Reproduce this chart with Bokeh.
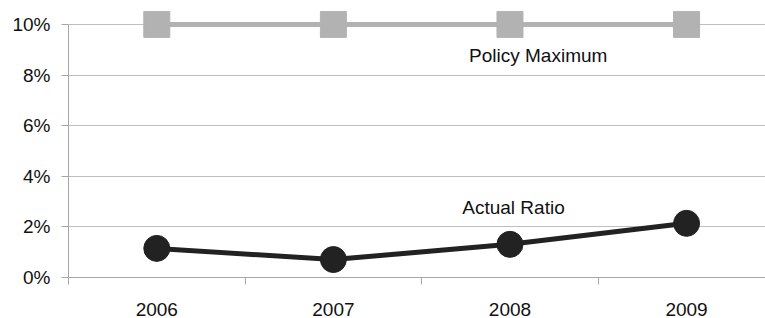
from bokeh.plotting import figure
from bokeh.models import FixedTicker, Range1d, ColumnDataSource
from bokeh.core.properties import value
from bokeh.embed import file_html
from bokeh.resources import INLINE

years = ["2006", "2007", "2008", "2009"]
actual_ratio = [1.15, 0.71, 1.31, 2.14]
policy_max = [10, 10, 10, 10]
y_ticks = [0, 2, 4, 6, 8, 10]
y_tick_labels = ["0%", "2%", "4%", "6%", "8%", "10%"]
series_labels = ["Policy Maximum", "Actual Ratio"]
label_x = [2.16, 2.02]
label_y = [8.79, 2.76]

FONT = "Liberation Sans"
xs = list(range(len(years)))

p = figure(width=765, height=318, output_backend="svg", toolbar_location=None,
           x_range=Range1d(-0.5, 3.447), y_range=Range1d(0, 10.55),
           min_border_left=68, min_border_right=0, min_border_top=10,
           min_border_bottom=41)
p.outline_line_color = None
p.background_fill_color = "white"
p.border_fill_color = "white"

# y axis
p.yaxis.ticker = FixedTicker(ticks=y_ticks)
p.yaxis.major_label_overrides = {t: l for t, l in zip(y_ticks, y_tick_labels)}
p.yaxis.bounds = (0, 10)
p.yaxis.axis_line_color = "#a6a6a6"
p.yaxis.major_tick_line_color = "#a6a6a6"
p.yaxis.major_tick_out = 7
p.yaxis.major_tick_in = 0
p.yaxis.minor_tick_line_color = None
p.yaxis.major_label_text_font = FONT
p.yaxis.major_label_text_font_size = "19px"
p.yaxis.major_label_text_color = "#111111"
p.yaxis.major_label_standoff = 11

# x axis
boundaries = [i - 0.5 for i in range(len(years) + 1)]
p.xaxis.ticker = FixedTicker(ticks=xs, minor_ticks=boundaries)
p.xaxis.major_label_overrides = {i: y for i, y in zip(xs, years)}
p.xaxis.axis_line_color = "#a6a6a6"
p.xaxis.major_tick_line_color = None
p.xaxis.major_tick_out = 0
p.xaxis.major_tick_in = 0
p.xaxis.minor_tick_line_color = "#a6a6a6"
p.xaxis.minor_tick_out = 7
p.xaxis.minor_tick_in = 0
p.xaxis.major_label_text_font = FONT
p.xaxis.major_label_text_font_size = "19px"
p.xaxis.major_label_text_color = "#111111"
p.xaxis.major_label_standoff = 18

p.xgrid.grid_line_color = None
p.ygrid.ticker = FixedTicker(ticks=y_ticks)
p.ygrid.grid_line_color = "#bfbfbf"
p.ygrid.grid_line_width = 1

src_p = ColumnDataSource(dict(x=xs, y=policy_max))
src_a = ColumnDataSource(dict(x=xs, y=actual_ratio))

p.line("x", "y", source=src_p, line_color="#b2b2b2", line_width=5)
p.scatter("x", "y", source=src_p, marker="square", size=26,
          fill_color="#b2b2b2", line_color="#b2b2b2")
p.line("x", "y", source=src_a, line_color="#222222", line_width=5)
p.scatter("x", "y", source=src_a, marker="circle", size=26,
          fill_color="#222222", line_color="#222222")

p.text(x=label_x, y=label_y, text=series_labels, text_font=value(FONT),
       text_font_size="19px", text_align="center", text_baseline="middle",
       text_color="#111111")

open("out.html", "w").write(file_html(p, INLINE))
